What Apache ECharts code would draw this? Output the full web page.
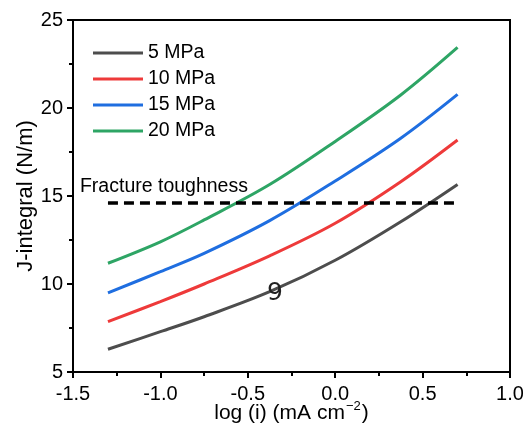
<!DOCTYPE html>
<html>
<head>
<meta charset="utf-8">
<script src="https://cdn.jsdelivr.net/npm/echarts@6/dist/echarts.min.js"></script>
<style>
html,body{margin:0;padding:0;background:#fff;}
#chart{width:523px;height:425px;}
</style>
</head>
<body>
<div id="chart"></div>
<script>
// Data
const xValues = [-1.3, -1.0, -0.75, -0.375, 0, 0.375, 0.7];
const seriesNames = ['5 MPa', '10 MPa', '15 MPa', '20 MPa'];
const j5 = [6.29, 7.29, 8.14, 9.56, 11.35, 13.54, 15.66];
const j10 = [7.86, 9.0, 10.0, 11.6, 13.45, 15.81, 18.18];
const j15 = [9.5, 10.7, 11.74, 13.6, 15.85, 18.28, 20.77];
const j20 = [11.18, 12.4, 13.64, 15.65, 18.1, 20.74, 23.44];
const toughnessX = [-1.3, 0.7];
const toughnessValue = 14.6;
const toughnessLabel = 'Fracture toughness';
const annotationText = '9';
const xTicks = { min: -1.5, max: 1.0, interval: 0.5 };
const yTicks = { min: 5, max: 25, interval: 5 };

const colors = ['#4d4d4d', '#ee3a3a', '#1f6ee0', '#2ea565'];
const allSeries = [j5, j10, j15, j20];

const chart = echarts.init(document.getElementById('chart'));
const font = '"Liberation Sans", Arial, sans-serif';

const series = allSeries.map((vals, i) => ({
  name: seriesNames[i],
  type: 'line',
  smooth: 0.35,
  symbol: 'none',
  showSymbol: false,
  data: xValues.map((x, k) => [x, vals[k]]),
  lineStyle: { color: colors[i], width: 3 },
  itemStyle: { color: colors[i] },
  z: 3
}));

series.push({
  name: 'toughness',
  type: 'line',
  symbol: 'none',
  data: toughnessX.map(x => [x, toughnessValue]),
  lineStyle: { color: '#000', width: 3.5, type: [10, 6] },
  z: 4
});

chart.setOption({
  animation: false,
  backgroundColor: '#fff',
  grid: { left: 73, top: 20, right: 13, bottom: 53, outerBoundsMode: 'none', containLabel: false, show: true, borderColor: '#000', borderWidth: 2, backgroundColor: 'transparent' },
  legend: {
    data: seriesNames.map(n => ({ name: n, icon: 'rect' })),
    orient: 'vertical',
    left: 88,
    top: 38,
    itemWidth: 50,
    itemHeight: 3,
    itemGap: 6,
    textStyle: { fontFamily: font, fontSize: 19.5, color: '#000', lineHeight: 20 }
  },
  xAxis: {
    type: 'value',
    min: xTicks.min, max: xTicks.max, interval: xTicks.interval,
    name: '{a|log (i) (mA cm}{s|−2}{a|)}',
    nameLocation: 'middle',
    nameGap: 28,
    nameMoveOverlap: false,
    nameTextStyle: {
      rich: {
        a: { fontFamily: font, fontSize: 21, color: '#000', verticalAlign: 'bottom', lineHeight: 24 },
        s: { fontFamily: font, fontSize: 13, color: '#000', verticalAlign: 'top', lineHeight: 14, padding: [0, 1, 0, 1] }
      }
    },
    axisLine: { onZero: false, lineStyle: { color: '#000', width: 2 } },
    axisTick: { show: true, inside: false, length: 6, lineStyle: { color: '#000', width: 2 } },
    minorTick: { show: true, splitNumber: 2, length: 4, lineStyle: { color: '#000', width: 2 } },
    splitLine: { show: false },
    axisLabel: { fontFamily: font, fontSize: 20, color: '#000', margin: 12, formatter: v => v.toFixed(1) }
  },
  yAxis: {
    type: 'value',
    min: yTicks.min, max: yTicks.max, interval: yTicks.interval,
    name: 'J-integral (N/m)',
    nameLocation: 'middle',
    nameGap: 36,
    nameMoveOverlap: false,
    nameTextStyle: { fontFamily: font, fontSize: 22, color: '#000' },
    axisLine: { onZero: false, lineStyle: { color: '#000', width: 2 } },
    axisTick: { show: true, inside: false, length: 6, lineStyle: { color: '#000', width: 2 } },
    minorTick: { show: true, splitNumber: 2, length: 4, lineStyle: { color: '#000', width: 2 } },
    splitLine: { show: false },
    axisLabel: { fontFamily: font, fontSize: 20, color: '#000', margin: 10 }
  },
  series: series
});

// Text annotations positioned from data coordinates
const labelPos = chart.convertToPixel({ gridIndex: 0 }, [toughnessX[0], toughnessValue]);
const annoPos = chart.convertToPixel({ gridIndex: 0 }, [-0.345, 9.45]);
chart.setOption({
  graphic: [
    {
      type: 'text',
      left: labelPos[0] - 28,
      top: labelPos[1] - 26,
      style: { text: toughnessLabel, fontFamily: font, fontSize: 19.5, fill: '#000' },
      z: 10
    },
    {
      type: 'text',
      x: annoPos[0], y: annoPos[1],
      style: { text: annotationText, fontFamily: '"DejaVu Sans", sans-serif', fontSize: 25, fill: '#222', align: 'center', verticalAlign: 'middle' },
      z: 10
    }
  ]
});
</script>
</body>
</html>
